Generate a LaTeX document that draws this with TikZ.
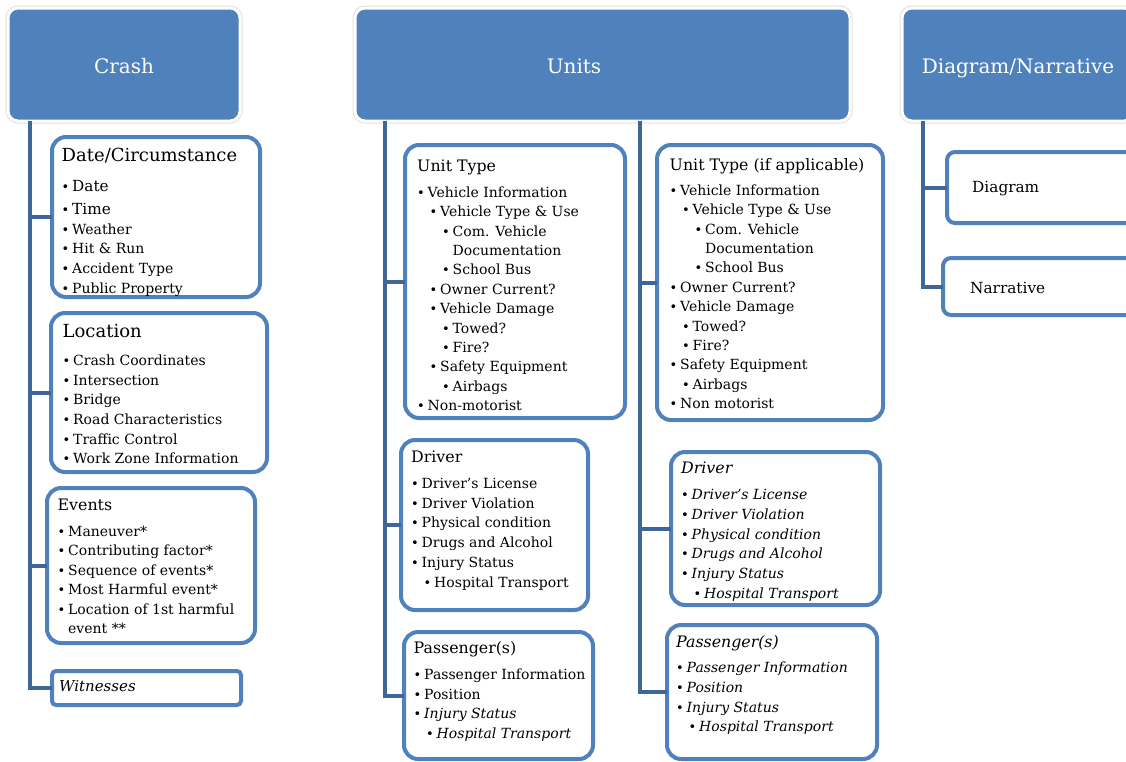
\documentclass[tikz,border=0pt]{standalone}
\usepackage{fontspec}
\setmainfont{DejaVu Serif}
\usetikzlibrary{positioning}

\definecolor{hdblue}{RGB}{79,129,189}
\definecolor{lnblue}{RGB}{62,102,152}

% bullets and indents for the lists
\newcommand{\bu}{\makebox[10.5pt][l]{\fontsize{13}{13}\selectfont\textbullet}}
\newcommand{\ia}{\hspace*{12.5pt}}
\newcommand{\ib}{\hspace*{25pt}}
\newcommand{\ic}{\hspace*{35.5pt}}
\newcommand{\bt}[2]{{\fontsize{#1}{#1}\selectfont\rule{0pt}{16pt}#2}}

\tikzset{
  head/.style={fill=hdblue, draw=white, line width=3pt, rounded corners=10pt,
    preaction={draw=black!12, line width=5pt}, anchor=north west,
    inner sep=0pt, outer sep=0pt},
  headtxt/.style={text=white, font=\fontsize{20}{24}\selectfont,
    text height=17pt, text depth=0pt, inner sep=0pt},
  sub/.style={draw=hdblue, fill=white, line width=4pt, rounded corners=14pt,
    anchor=north west, inner sep=0pt, outer sep=0pt},
  txt/.style={anchor=north west, inner sep=0pt, align=left,
    font=\fontsize{14}{#1}\selectfont},
  itxt/.style={anchor=north west, inner sep=0pt, align=left,
    font=\fontsize{14}{#1}\selectfont\itshape},
  link/.style={draw=lnblue, line width=4pt},
}

\begin{document}
\begin{tikzpicture}[x=1pt, y=-1pt]
\useasboundingbox (0,0) rectangle (1126,761);
\clip (0,0) rectangle (1126,761);

% headers
\node[head, minimum width=232pt, minimum height=113pt] (crash) at (8,8) {};
\node[headtxt] (crashtxt) at (crash.center) {Crash};
\node[head, preaction={draw=none}, minimum width=495pt, minimum height=113pt] (units) at (355,8) {};
\node[headtxt] (unitstxt) at (574,64.5) {Units};
\node[head, minimum width=232pt, minimum height=113pt] (dgnar) at (902,8) {};
\node[headtxt] (dgnartxt) at (dgnar.center) {Diagram/Narrative};

% crash column
\node[sub, minimum width=208pt, minimum height=160pt] (datebox) at (52,137) {};
\node[txt=19.6] (datetxt) at (61.5,145.7) {\bt{18}{Date/Circumstance}\\[9.7pt]
  {\fontsize{15.3}{18}\selectfont\bu Date}\\[3.4pt]
  {\fontsize{15.3}{18}\selectfont\bu Time}\\[0.4pt]
  \bu Weather\\
  \bu Hit \& Run\\
  \bu Accident Type\\
  \bu Public Property};

\node[sub, minimum width=216pt, minimum height=159pt] (locbox) at (51,313) {};
\node[txt=19.7] (loctxt) at (62.5,321.3) {\bt{18}{Location}\\[8.1pt]
  \bu Crash Coordinates\\
  \bu Intersection\\
  \bu Bridge\\
  \bu Road Characteristics\\
  \bu Traffic Control\\
  \bu Work Zone Information};

\node[sub, minimum width=208pt, minimum height=155pt] (evbox) at (47,488) {};
\node[txt=19.5] (evtxt) at (57.5,494.7) {\bt{15.8}{Events}\\[5.8pt]
  \bu Maneuver*\\
  \bu Contributing factor*\\
  \bu Sequence of events*\\
  \bu Most Harmful event*\\
  \bu Location of 1st harmful\\
  \hspace*{10.5pt}event **};

\node[sub, rounded corners=4pt, minimum width=189pt, minimum height=34pt] (witbox) at (52,671) {};
\node[anchor=base west, inner sep=0pt, font=\fontsize{15}{18}\selectfont\itshape] (wittxt) at (59,691.7) {Witnesses};

% units column
\node[sub, minimum width=220pt, minimum height=273pt] (utype) at (405,145) {};
\node[txt=19.4] (utypetxt) at (417,155.7) {\bt{15.8}{Unit Type}\\[6pt]
  \bu Vehicle Information\\
  \ia\bu Vehicle Type \& Use\\
  \ib\bu Com. Vehicle\\
  \ic Documentation\\
  \ib\bu School Bus\\
  \ia\bu Owner Current?\\
  \ia\bu Vehicle Damage\\
  \ib\bu Towed?\\
  \ib\bu Fire?\\
  \ia\bu Safety Equipment\\
  \ib\bu Airbags\\
  \bu Non-motorist};

\node[sub, minimum width=187pt, minimum height=170pt] (driver) at (401,440) {};
\node[txt=19.7] (drivertxt) at (411,446.7) {\bt{15.8}{Driver}\\[5.9pt]
  \bu Driver's License\\
  \bu Driver Violation\\
  \bu Physical condition\\
  \bu Drugs and Alcohol\\
  \bu Injury Status\\
  \ia\bu Hospital Transport};

\node[sub, minimum width=189pt, minimum height=127pt] (pass) at (404,632) {};
\node[txt=19.7] (passtxt) at (413.5,637.3) {\bt{15.8}{Passenger(s)}\\[6.3pt]
  \bu Passenger Information\\
  \bu Position\\
  \bu \textit{Injury Status}\\
  \ia\bu \textit{Hospital Transport}};

\node[sub, minimum width=226pt, minimum height=275pt] (utypeb) at (657,145) {};
\node[txt=19.4] (utypebtxt) at (669.5,154.7) {\bt{15.8}{Unit Type (if applicable)}\\[4.9pt]
  \bu Vehicle Information\\
  \ia\bu Vehicle Type \& Use\\
  \ib\bu Com. Vehicle\\
  \ic Documentation\\
  \ib\bu School Bus\\
  \bu Owner Current?\\
  \bu Vehicle Damage\\
  \ia\bu Towed?\\
  \ia\bu Fire?\\
  \bu Safety Equipment\\
  \ia\bu Airbags\\
  \bu Non motorist};

\node[sub, minimum width=209pt, minimum height=153pt] (driverb) at (671,452) {};
\node[itxt=19.8] (driverbtxt) at (681,457.3) {\bt{15.8}{Driver}\\[6.2pt]
  \bu Driver's License\\
  \bu Driver Violation\\
  \bu Physical condition\\
  \bu Drugs and Alcohol\\
  \bu Injury Status\\
  \ia\bu Hospital Transport};

\node[sub, minimum width=210pt, minimum height=134pt] (passb) at (667,625) {};
\node[itxt=19.8] (passbtxt) at (676,631.7) {\bt{15.8}{Passenger(s)}\\[4.8pt]
  \bu Passenger Information\\
  \bu Position\\
  \bu Injury Status\\
  \ia\bu Hospital Transport};

% diagram/narrative column
\node[sub, rounded corners=8pt, minimum width=193pt, minimum height=71pt] (diag) at (947,152) {};
\node[anchor=base west, inner sep=0pt, font=\fontsize{15.3}{18}\selectfont] (diagtxt) at (972,192.7) {Diagram};
\node[sub, rounded corners=8pt, minimum width=197pt, minimum height=57pt] (narr) at (943,258) {};
\node[anchor=base west, inner sep=0pt, font=\fontsize{15.3}{18}\selectfont] (narrtxt) at (970,293.3) {Narrative};

% connectors
\coordinate (cr) at ([xshift=22pt]crash.south west);
\coordinate (ua) at ([xshift=30pt]units.south west);
\coordinate (ub) at ([xshift=285pt]units.south west);
\coordinate (dn) at ([xshift=21pt]dgnar.south west);
\foreach \b in {datebox,locbox,evbox,witbox}
  \draw[link] (cr) |- (\b.west);
\foreach \b in {utype,driver,pass}
  \draw[link] (ua) |- (\b.west);
\foreach \b in {utypeb,driverb,passb}
  \draw[link] (ub) |- (\b.west);
\foreach \b in {diag,narr}
  \draw[link] (dn) |- (\b.west);

\end{tikzpicture}
\end{document}
